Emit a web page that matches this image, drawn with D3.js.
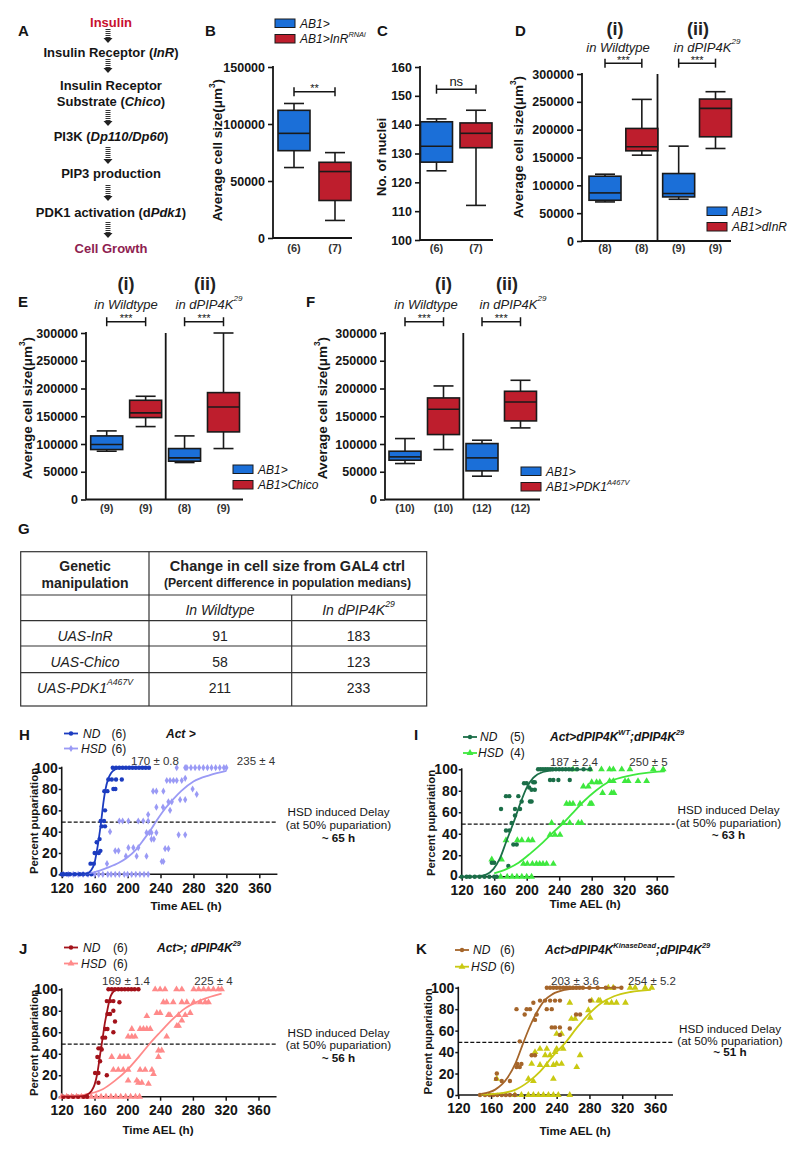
<!DOCTYPE html>
<html><head><meta charset="utf-8">
<script src="https://cdn.jsdelivr.net/npm/d3@7"></script>
<style>body{margin:0;background:#fff}svg{display:block}text{font-family:"Liberation Sans",Arial,Helvetica,sans-serif}</style>
</head><body>
<svg id="fig" width="800" height="1150"></svg>
<script>
// ================= DATA =================
// Panel A pathway
const pathwaySteps = [
  [{t:"Insulin"}],
  [{t:"Insulin Receptor ("},{t:"InR",i:1},{t:")"}],
  [{t:"Insulin Receptor"}],
  [{t:"Substrate ("},{t:"Chico",i:1},{t:")"}],
  [{t:"PI3K ("},{t:"Dp110/Dp60",i:1},{t:")"}],
  [{t:"PIP3 production"}],
  [{t:"PDK1 activation (d"},{t:"Pdk1",i:1},{t:")"}],
  [{t:"Cell Growth"}]
];
// Box plots: [min, Q1, median, Q3, max]
const nB = ["(6)","(7)"];
const boxB = [[61800,76600,91800,112000,118000],[15400,32900,58300,66400,74900]];
const nC = ["(6)","(7)"];
const boxC = [[124,127,132.5,141,142],[112,132,137,140.6,145]];
const nD = ["(8)","(8)","(9)","(9)"];
const boxD = [[70200,73200,86400,116400,120000],[154200,162000,169200,202200,254400],
              [75000,79200,85200,121200,170400],[166200,187200,238200,255000,268200]];
const nE = ["(9)","(9)","(8)","(9)"];
const boxE = [[87000,90000,99000,114600,123600],[131400,147600,156000,178800,186000],
              [66600,69000,75000,91800,114600],[91800,121800,166800,192600,300000]];
const nF = ["(10)","(10)","(12)","(12)"];
const boxF = [[64800,70800,76800,87000,109800],[90000,117000,162600,183000,204600],
              [42000,51600,75000,100800,106800],[129000,141600,175800,195000,214800]];
const cellTicks = [0,50000,100000,150000,200000,250000,300000];
const cellTicksB = [0,50000,100000,150000];
const nucleiTicks = [100,110,120,130,140,150,160];
// Table G
const tableRows = ["UAS-InR","UAS-Chico","UAS-PDK1"];
const tableWT = [91,58,211];
const tableDP = [183,123,233];
// Pupariation: [time AEL (h), percent]
const timeTicks = [120,160,200,240,280,320,360];
const pctTicks = [0,20,40,60,80,100];
const hND = [[120,0],[122,0],[126,0],[130,0],[136,0],[142,0],[146,0],[151,0],[156,0],[155,10],[159,10],[160,20],[165,20],[167,22],[162.5,30],[166,33],[168.6,45],[172.6,45],[167.4,50],[171.4,50],[172.6,60],[171.8,78],[175.5,78],[182.8,80],[185.2,80],[176.7,89],[180.8,89],[186,89],[193,89],
  [182,100],[186,100],[190,100],[194,100],[198,100],[202,100],[206,100],[210,100],[214,100],[218,100],[222,100],[226,100]];
const hHSD = [[122,0],[128,0],[134,0],[140,0],[146,0],[152,0],[160,0],[165,0],[170,0],[176,0],[180,0],[185,0],[190,0],[196,0],[200,0],[205,0],[210,0],[215,0],[220,0],[225,0],
  [175,10],[198,17],[211,17],[223,17],[185,22],[189,22],[201,25],[207,25],[213,25],[241.5,12],[243.5,12],[245.6,24],[249.6,24],[229,33],[232,33],[229,39],[235,39],[262,37],[270,37],[178.7,40],[223,39],[226.5,39],
  [190,50],[194,50],[201,50],[213,50],[219,50],[225,50],[225,56],[235,63],[243,63],[249.6,68],[253.7,68],[231,78],[235,78],[243.5,78],[263.8,70],[270,70],[251.6,60],[284,75],[279,80],
  [247.6,88],[251.6,88],[255.7,88],[259.7,88],[265.8,88],[270,90],
  [259.7,100],[270,100],[272,100],[277,100],[282,100],[287,100],[292,100],[297,100],[302,100],[307,100],[312,100],[317,100],[320,100]];
const hNDfit = [[120,0],[150,0.5],[156,4],[160,11],[162.5,21],[165,33],[168,50],[170.6,67],[173,79],[176.7,90],[180,95],[185,98.5],[190,99.7],[227,100]];
const hHSDfit = [[145,0],[160,2],[175,6],[190,11],[200,16],[210,23],[220,33],[230,44],[235,50],[245,61],[255,70],[265,78],[280,87],[300,93],[320,97]];

const iND = [[120,0],[126,0],[130,0],[136,0],[142,0],[148,0],[154,0],[160,0],[163,0],[157,13],[160,13],[177.4,10],[174.5,43],[178.6,43],[168.4,63],[174.5,75],[178.6,75],[183.6,30],[187.7,30],[185.6,63],[191.8,63],[185.6,57],[189.7,75],[196.7,87],[200,87],[208,88],[210,88],[203,83],[193.8,70],[204,70],[206,70],[206,81],[210,81],[181.5,50],
  [228.7,90],[232.8,90],[239,90],[253,90],
  [214,100],[217,100],[220,100],[223,100],[226,100],[229,100],[232,100],[236,100],[240,100],[244,100],[248,100],[252,100],[256,100],[262,100],[270,100],[278,100]];
const iHSD = [[168,0],[176,0],[182,0],[188,0],[194,0],[200,0],[206,0],[157,16],[169,16],
  [196,12],[200.8,12],[207,12],[212,12],[216,12],[220,12],[224.5,12],[232.8,12],
  [174.5,34],[188.5,34],[194,34],[202,34],[207,34],[228.7,39],[234.8,39],[241,39],
  [230.7,50],[245,50],[253,50],[263.5,50],[267.6,50],
  [249,68],[253,68],[257,68],[265.6,68],[278,68],[280,68],[269.7,84],[275.8,84],[280,88],[286,88],[290,88],[293.4,78],[304.5,78],[307.4,78],
  [302,89],[306.6,89],[321,89],[325,89],[337,89],[347.6,89],
  [257,100],[278,100],[292,100],[302,100],[306.6,100],[317,100],[327,100],[355.8,100],[368,100]];
const iNDfit = [[120,0],[140,0.5],[150,2],[159,7],[167,17],[175,33],[183.6,50],[192,68],[200,83],[208,92],[220,97.5],[237,99.5],[278,100]];
const iHSDfit = [[160,3],[175,7],[190,13],[205,22],[220,32],[235,43],[245,50],[255,58],[270,70],[285,80],[300,88],[320,93],[345,96.5],[370,98]];

const jND = [[122,0],[128,0],[134,0],[140,0],[146.5,0],[151,0],[160.7,22],[164.8,22],[164.8,13],[163.5,37],[164.8,45],[167.6,45],[166.8,33],[169.7,55],[173,55],[173,63],[175.8,63],[168.8,44],[175,20],[175.8,77],[179,77],
  [175,89],[179,89],[183,89],[190.4,88],[183,80],[185,70],[183,60],
  [177,100],[181,100],[185,100],[189,100],[193,100],[197,100],[201,100],[205,100],[209,100],[213.6,100]];
const jHSD = [[120,0],[126,0],[132,0],[138,0],[144,0],[150,0],[156,0],[162,0],[168,0],[174,0],[180,0],[186,0],[192,0],[198,0],[204,0],[210,0],[215,0],
  [213.6,13],[217.7,13],[225.8,12],[201,15],[211.6,15],
  [183,25],[189,25],[195,25],[201,25],[215.6,25],[221.8,25],[230,25],[181,37],[191,37],[196,37],[201,37],[232,21],
  [201,56],[205.5,56],[209.5,56],[205.5,63],[215.6,63],[219.7,63],[223.8,63],[228,63],[223.8,75],[248,56],[238,43],[242,43],[238,37],
  [236,78],[240,78],[244,88],[248,88],[256,88],[266.5,88],[250,76],[252,76],[262.5,76],[270.6,76],[260.4,66],[262.5,66],[266.5,71],
  [234,100],[240,100],[246,100],[260,100],[266.5,100],[281,100],[287,100],[293,100],[299,100],[305,100],[311,100],[315,100],
  [272.6,88],[281,88],[289,88],[295,88],[299,88],[276.7,78]];
const jNDfit = [[120,0],[145,0.5],[150,1.5],[156,5],[160,11],[163,20],[167,40],[170,55],[172.5,68],[175,78],[179,92],[185,99],[190,100],[213,100]];
const jHSDfit = [[120,0.5],[140,1],[155,3],[170,7],[185,15],[200,25],[215,38],[228,50],[240,60],[255,72],[270,82],[290,90],[315,96]];

const kND = [[146.5,0],[152.6,0],[158,0],[162.7,0],[167.6,0],[173,0],[178,0],[183,0],[189,0],[167,20],[166,15],[173,13],[183,13],[191,26],[195,26],[192,29],[197,29],[195,50],[191,80],[201,75],[203.4,80],[207.5,80],[209.5,37],[213.6,37],[213.6,70],[211.6,86],
  [219.7,88],[225.8,88],[232,88],[238,88],[244,88],[215.6,75],[234,63],[238,63],[244,63],[227.9,80],[234,80],[244,56],[256,62],[263.7,75],[268.6,75],[280.8,88],
  [228,100],[232,100],[236,100],[240,100],[244,100],[248,100],[252,100],[256,100],[260,100],[264,100],[268,100],[272,100],[280,100],[290,100],[300,100],[310,100],[319,100]];
const kHSD = [[189,0],[197,0],[205.5,0],[211.6,0],[217.7,0],[223.8,0],[230,0],[236,0],[242,0],[256,0],
  [167,15],[205.5,15],[211.6,13],[209.5,29],[240,29],[213.6,40],[219.7,43],[228,43],[238,40],[226,37],[232,37],[219.7,28],[228,28],[236,28],
  [240,57],[246,57],[240,43],[248,43],[236,15],[246,29],[256,86],[258,71],[262.5,71],[264.5,26],[268.6,37],[278.7,79],[280.8,72],
  [282.8,88],[291,88],[293,88],[301,86],[307,86],[313,86],[324,86],
  [303,100],[309,100],[329.6,100],[335.7,100],[348,100],[356,100]];
const kNDfit = [[148,1],[165,5],[180,16],[190,30],[200,50],[208,65],[215,76],[225,88],[235,94],[250,98],[270,99.7],[320,100]];
const kHSDfit = [[148,0.3],[175,2],[190,5],[205,12],[220,22],[235,36],[252,50],[265,63],[280,76],[295,86],[310,92],[330,96],[355,98]];

// ================= DRAWING =================
const svg = d3.select("#fig");
const BLUE = "#1b6fd8", RED = "#be1e2d", INK = "#151515";
const FF = '"Liberation Sans",Arial,sans-serif';

function txt(x, y, segs, o = {}) {
  const size = o.size || 12;
  const t = svg.append("text").attr("x", x).attr("y", y)
    .attr("font-size", size).attr("font-weight", o.weight || "normal")
    .attr("text-anchor", o.anchor || "middle").attr("dominant-baseline", "central")
    .attr("fill", o.fill || INK);
  if (o.italic) t.attr("font-style", "italic");
  if (o.rotate) t.attr("transform", `rotate(${o.rotate},${x},${y})`);
  if (typeof segs === "string") segs = [{t: segs}];
  let shifted = 0;
  segs.forEach(s => {
    const ts = t.append("tspan").text(s.t);
    if (s.i) ts.attr("font-style", "italic");
    if (s.b) ts.attr("font-weight", "bold");
    const want = s.sup ? -size * 0.4 : 0;
    if (want !== shifted) { ts.attr("dy", want - shifted); shifted = want; }
    if (s.sup) ts.attr("font-size", size * 0.62);
  });
  return t;
}

// ---------- Panel A ----------
txt(18, 30, "A", {size: 15, weight: "bold", anchor: "start"});
const aY = [22, 52, 85, 101, 136, 173, 212, 248];
pathwaySteps.forEach((s, i) => {
  let fill = INK;
  if (i === 0) fill = "#c8102e";
  if (i === pathwaySteps.length - 1) fill = "#8e2150";
  txt(111, aY[i], s, {size: 13, weight: "bold", fill});
});
const arrows = [[29,43],[59,73],[110,126],[147,164],[185,201],[222,238]];
arrows.forEach(a => {
  svg.append("line").attr("x1", 108).attr("x2", 108).attr("y1", a[0]).attr("y2", a[1] - 4)
    .attr("stroke", "#333").attr("stroke-width", 5).attr("stroke-dasharray", "1,1");
  svg.append("path").attr("d", `M103.5,${a[1]-5} L112.5,${a[1]-5} L108,${a[1]} Z`).attr("fill", "#222");
});

// ---------- Box panels ----------
function boxPanel(o) {
  const y = d3.scaleLinear().domain(o.domain).range([o.y0, o.yTop]);
  const keys = o.data.map((d, i) => "k" + i);
  const x = d3.scalePoint().domain(keys).range(o.xr);
  const ag = svg.append("g").attr("transform", `translate(${o.ax},0)`)
    .call(d3.axisLeft(y).tickValues(o.ticks).tickSize(5).tickPadding(3).tickFormat(d3.format("d")));
  ag.select(".domain").remove();
  ag.selectAll("line").attr("stroke", INK).attr("stroke-width", 1.6);
  ag.selectAll("text").attr("font-size", 12.5).attr("font-weight", "bold").attr("fill", INK).attr("font-family", FF);
  svg.append("line").attr("x1", o.ax).attr("x2", o.ax).attr("y1", o.yTop - 1).attr("y2", o.y0)
    .attr("stroke", INK).attr("stroke-width", 1.8);
  svg.append("line").attr("x1", o.ax).attr("x2", o.xEnd).attr("y1", o.y0).attr("y2", o.y0)
    .attr("stroke", INK).attr("stroke-width", 1.8);
  if (o.divider) svg.append("line").attr("x1", o.divider).attr("x2", o.divider)
    .attr("y1", o.yTop).attr("y2", o.y0).attr("stroke", INK).attr("stroke-width", 1.8);
  const bw = 32, cw = 20;
  const g = svg.append("g").attr("stroke", "#1a1a1a").attr("stroke-width", 1.6);
  o.data.forEach((d, i) => {
    const cx = x(keys[i]);
    const col = o.colors[i];
    g.append("line").attr("x1", cx).attr("x2", cx).attr("y1", y(d[0])).attr("y2", y(d[1]));
    g.append("line").attr("x1", cx).attr("x2", cx).attr("y1", y(d[3])).attr("y2", y(d[4]));
    g.append("line").attr("x1", cx - cw/2).attr("x2", cx + cw/2).attr("y1", y(d[0])).attr("y2", y(d[0]));
    g.append("line").attr("x1", cx - cw/2).attr("x2", cx + cw/2).attr("y1", y(d[4])).attr("y2", y(d[4]));
    g.append("rect").attr("x", cx - bw/2).attr("width", bw).attr("y", y(d[3]))
      .attr("height", y(d[1]) - y(d[3])).attr("fill", col);
    g.append("line").attr("x1", cx - bw/2).attr("x2", cx + bw/2).attr("y1", y(d[2])).attr("y2", y(d[2]));
    txt(cx, o.nY, o.n[i], {size: 11, weight: "bold", fill: "#333"});
  });
  o.brackets.forEach(b => {
    const x1 = x(keys[b[0]]), x2 = x(keys[b[1]]), by = y(b[2]);
    const bg = svg.append("g").attr("stroke", INK).attr("stroke-width", 1.5);
    bg.append("line").attr("x1", x1).attr("x2", x2).attr("y1", by).attr("y2", by);
    bg.append("line").attr("x1", x1).attr("x2", x1).attr("y1", by - 4.5).attr("y2", by + 4.5);
    bg.append("line").attr("x1", x2).attr("x2", x2).attr("y1", by - 4.5).attr("y2", by + 4.5);
    const ns = b[3] === "ns";
    svg.append("text").attr("x", (x1 + x2) / 2).attr("y", by - (ns ? 3 : -0.5)).attr("text-anchor", "middle")
      .attr("font-size", ns ? 13 : 11).attr("fill", INK).text(b[3]);
  });
  txt(o.ytX, o.ytY, o.ytitle, {size: o.ytSize || 13.5, weight: "bold", rotate: -90});
}
const cellTitle = [{t:"Average cell size(μm"},{t:"3",sup:1},{t:")"}];

function legend(x, y, labels) {
  labels.forEach((l, i) => {
    svg.append("rect").attr("x", x).attr("y", y + i * 15.5).attr("width", 20).attr("height", 8.5)
      .attr("fill", i === 0 ? BLUE : RED).attr("stroke", "#1a1a1a").attr("stroke-width", 1);
    txt(x + 25, y + 4.5 + i * 15.5, l, {size: 12, italic: true, anchor: "start"});
  });
}

// B
txt(205, 30, "B", {size: 15, weight: "bold", anchor: "start"});
boxPanel({domain: [0,150000], ticks: cellTicksB, y0: 238, yTop: 67, ax: 273, xEnd: 352, xr: [294,335],
  data: boxB, colors: [BLUE, RED], n: nB, nY: 248, brackets: [[0,1,128300,"**"]],
  ytX: 217, ytY: 150, ytitle: cellTitle});
legend(275, 19, [[{t:"AB1>"}], [{t:"AB1>InR"},{t:"RNAi",sup:1}]]);
// C
txt(377, 30, "C", {size: 15, weight: "bold", anchor: "start"});
boxPanel({domain: [100,160], ticks: nucleiTicks, y0: 240, yTop: 67, ax: 420, xEnd: 493, xr: [436.5,476],
  data: boxC, colors: [BLUE, RED], n: nC, nY: 248, brackets: [[0,1,152.3,"ns"]],
  ytX: 381, ytY: 157, ytitle: "No. of nuclei", ytSize: 13});
// D
txt(515, 30, "D", {size: 15, weight: "bold", anchor: "start"});
boxPanel({domain: [0,300000], ticks: cellTicks, y0: 241, yTop: 74, ax: 582, xEnd: 731, xr: [605,715.5],
  divider: 657.5, data: boxD, colors: [BLUE, RED, BLUE, RED], n: nD, nY: 248,
  brackets: [[0,1,319500,"***"],[2,3,319500,"***"]], ytX: 518, ytY: 147, ytitle: cellTitle});
txt(615, 29, "(i)", {size: 18, weight: "bold", fill: "#222"});
txt(698, 29, "(ii)", {size: 18, weight: "bold", fill: "#222"});
txt(618, 46.5, "in Wildtype", {size: 13, italic: true, fill: "#222"});
txt(707, 46.5, [{t:"in dPIP4K"},{t:"29",sup:1}], {size: 13, italic: true, fill: "#222"});
legend(707, 207, [[{t:"AB1>"}], [{t:"AB1>dInR"}]]);
// E
txt(18, 301, "E", {size: 15, weight: "bold", anchor: "start"});
boxPanel({domain: [0,300000], ticks: cellTicks, y0: 499.5, yTop: 333, ax: 86, xEnd: 243, xr: [106.7,223.5],
  divider: 165.7, data: boxE, colors: [BLUE, RED, BLUE, RED], n: nE, nY: 508,
  brackets: [[0,1,320300,"***"],[2,3,320300,"***"]], ytX: 27, ytY: 408, ytitle: cellTitle});
txt(126, 284, "(i)", {size: 18, weight: "bold", fill: "#222"});
txt(205, 284, "(ii)", {size: 18, weight: "bold", fill: "#222"});
txt(126, 303.5, "in Wildtype", {size: 13, italic: true, fill: "#222"});
txt(209, 303.5, [{t:"in dPIP4K"},{t:"29",sup:1}], {size: 13, italic: true, fill: "#222"});
legend(233, 465, [[{t:"AB1>"}], [{t:"AB1>Chico"}]]);
// F
txt(306, 301, "F", {size: 15, weight: "bold", anchor: "start"});
boxPanel({domain: [0,300000], ticks: cellTicks, y0: 499.5, yTop: 333, ax: 385, xEnd: 540, xr: [405,520.5],
  divider: 463.3, data: boxF, colors: [BLUE, RED, BLUE, RED], n: nF, nY: 508,
  brackets: [[0,1,320300,"***"],[2,3,320300,"***"]], ytX: 322, ytY: 408, ytitle: cellTitle});
txt(443.5, 284, "(i)", {size: 18, weight: "bold", fill: "#222"});
txt(507, 284, "(ii)", {size: 18, weight: "bold", fill: "#222"});
txt(426, 303.5, "in Wildtype", {size: 13, italic: true, fill: "#222"});
txt(513, 303.5, [{t:"in dPIP4K"},{t:"29",sup:1}], {size: 13, italic: true, fill: "#222"});
legend(521, 467, [[{t:"AB1>"}], [{t:"AB1>PDK1"},{t:"A467V",sup:1}]]);

// ---------- Table G ----------
txt(18, 528, "G", {size: 15, weight: "bold", anchor: "start"});
const tb = svg.append("g").attr("stroke", "#333").attr("stroke-width", 1.2).attr("fill", "none");
tb.append("rect").attr("x", 20.7).attr("y", 551.7).attr("width", 406).attr("height", 154.3);
[595, 620.7, 646, 672.7].forEach(yy => tb.append("line").attr("x1", 20.7).attr("x2", 426.7).attr("y1", yy).attr("y2", yy));
tb.append("line").attr("x1", 149).attr("x2", 149).attr("y1", 551.7).attr("y2", 706);
tb.append("line").attr("x1", 291.7).attr("x2", 291.7).attr("y1", 595).attr("y2", 706);
txt(85, 566, "Genetic", {size: 14, weight: "bold", fill: "#222"});
txt(85, 583, "manipulation", {size: 14, weight: "bold", fill: "#222"});
txt(287.5, 566, "Change in cell size from GAL4 ctrl", {size: 14.5, weight: "bold", fill: "#222"});
txt(287.5, 583, "(Percent difference in population medians)", {size: 12.2, weight: "bold", fill: "#222"});
txt(220, 610, "In Wildtype", {size: 14, italic: true, fill: "#222"});
txt(358.5, 610, [{t:"In dPIP4K"},{t:"29",sup:1}], {size: 14, italic: true, fill: "#222"});
const rowY = [636, 661.5, 688];
tableRows.forEach((r, i) => {
  const segs = i === 2 ? [{t:r},{t:"A467V",sup:1}] : [{t:r}];
  txt(85, rowY[i], segs, {size: 14, italic: true, fill: "#222"});
  txt(220, rowY[i], String(tableWT[i]), {size: 14, fill: "#222"});
  txt(358.5, rowY[i], String(tableDP[i]), {size: 14, fill: "#222"});
});

// ---------- Pupariation panels ----------
function pupPanel(o) {
  const x = d3.scaleLinear().domain([120,360]).range([o.x120, o.x360]);
  const y = d3.scaleLinear().domain([0,100]).range([o.y0, o.y100]);
  const xa = svg.append("g").attr("transform", `translate(0,${o.y0})`)
    .call(d3.axisBottom(x).tickValues(timeTicks).tickSize(4).tickPadding(4.5));
  const ya = svg.append("g").attr("transform", `translate(${o.x120},0)`)
    .call(d3.axisLeft(y).tickValues(pctTicks).tickSize(3).tickPadding(1));
  [xa, ya].forEach(a => {
    a.select(".domain").remove();
    a.selectAll("line").attr("stroke", INK).attr("stroke-width", 1.5);
    a.selectAll("text").attr("font-size", 14).attr("font-weight", "bold").attr("fill", INK).attr("font-family", FF);
  });
  ya.selectAll(".tick text").filter(d => d === 0).attr("dy", "0.18em");
  svg.append("line").attr("x1", o.x120).attr("x2", x(382)).attr("y1", o.y0).attr("y2", o.y0)
    .attr("stroke", INK).attr("stroke-width", 1.6);
  svg.append("line").attr("x1", o.x120).attr("x2", o.x120).attr("y1", o.y0).attr("y2", o.y100 - 1)
    .attr("stroke", INK).attr("stroke-width", 1.6);
  svg.append("line").attr("x1", o.x120).attr("x2", x(382)).attr("y1", y(49)).attr("y2", y(49))
    .attr("stroke", "#111").attr("stroke-width", 1.3).attr("stroke-dasharray", "4,2");
  const hsdSym = d3.symbol().type(o.hsdShape === "diamond" ? d3.symbolDiamond : d3.symbolTriangle)
    .size(o.hsdShape === "diamond" ? 15 : 20);
  svg.append("g").selectAll("path").data(o.hsd).join("path")
    .attr("transform", d => `translate(${x(d[0])},${y(d[1])})`).attr("d", hsdSym).attr("fill", o.hsdCol);
  svg.append("g").selectAll("circle").data(o.nd).join("circle")
    .attr("cx", d => x(d[0])).attr("cy", d => y(d[1])).attr("r", 2.2).attr("fill", o.ndCol);
  const ln = d3.line().x(d => x(d[0])).y(d => y(d[1])).curve(d3.curveMonotoneX);
  svg.append("path").attr("d", ln(o.hsdFit)).attr("fill", "none").attr("stroke", o.hsdCol).attr("stroke-width", 1.8);
  svg.append("path").attr("d", ln(o.ndFit)).attr("fill", "none").attr("stroke", o.ndCol).attr("stroke-width", 1.8);
  // legend
  const L = o.leg;
  [[o.ndCol, "ND", o.nN, 0], [o.hsdCol, "HSD", o.nH, 1]].forEach(([c, lab, n, k]) => {
    const yy = L.y + k * L.dy;
    svg.append("line").attr("x1", L.x).attr("x2", L.x + 14).attr("y1", yy).attr("y2", yy).attr("stroke", c).attr("stroke-width", 1.8);
    if (k === 0) svg.append("circle").attr("cx", L.x + 7).attr("cy", yy).attr("r", 2.2).attr("fill", c);
    else svg.append("path").attr("transform", `translate(${L.x + 7},${yy})`).attr("d", hsdSym).attr("fill", c);
    txt(L.tx - (k ? 2 : 0), yy, lab, {size: 12, italic: true, anchor: "start"});
    txt(L.nx, yy, n, {size: 12, anchor: "start"});
  });
  txt(o.title.x, L.y, o.title.segs, {size: 12, weight: "bold", italic: true, anchor: "start"});
  txt(o.a1.x, o.aY, o.a1.t, {size: 11.5, fill: "#333"});
  txt(o.a2.x, o.aY, o.a2.t, {size: 11.5, fill: "#333"});
  txt(o.dX, o.dY, "HSD induced Delay", {size: 11.7});
  txt(o.dX, o.dY + o.dS, "(at 50% pupariation)", {size: 11.7});
  txt(o.dX, o.dY + 2 * o.dS, o.delay, {size: 11.7, weight: "bold"});
  txt(o.lab.x, o.lab.y, o.lab.t, {size: 15, weight: "bold", anchor: "start"});
  txt(o.ytX, (o.y0 + o.y100) / 2, "Percent pupariation", {size: 11.3, weight: "bold", rotate: -90});
  txt(o.xt.x, o.xt.y, "Time AEL (h)", {size: 11.7, weight: "bold"});
}

pupPanel({x120: 61.7, x360: 259.3, y0: 874.3, y100: 767.7, nd: hND, hsd: hHSD, ndFit: hNDfit, hsdFit: hHSDfit,
  ndCol: "#1c3cc0", hsdCol: "#9a9af5", hsdShape: "diamond",
  leg: {x: 64, y: 733.5, dy: 15, tx: 83, nx: 111.5}, nN: "(6)", nH: "(6)",
  title: {x: 166, segs: [{t:"Act >"}]}, aY: 761, a1: {x: 155, t: "170 ± 0.8"}, a2: {x: 256, t: "235 ± 4"},
  dX: 338.5, dY: 811, dS: 12.8, delay: "~ 65 h", lab: {x: 19, y: 734, t: "H"}, ytX: 34, xt: {x: 186, y: 905}});
pupPanel({x120: 461.7, x360: 656.7, y0: 876.7, y100: 769.3, nd: iND, hsd: iHSD, ndFit: iNDfit, hsdFit: iHSDfit,
  ndCol: "#1b6e48", hsdCol: "#3ee83e", hsdShape: "triangle",
  leg: {x: 463, y: 737, dy: 16, tx: 480, nx: 510},
  nN: "(5)", nH: "(4)",
  title: {x: 550, segs: [{t:"Act>dPIP4K"},{t:"WT",sup:1},{t:";dPIP4K"},{t:"29",sup:1}]},
  aY: 762, a1: {x: 574, t: "187 ± 2.4"}, a2: {x: 648.5, t: "250 ± 5"},
  dX: 728.5, dY: 809, dS: 12.5, delay: "~ 63 h", lab: {x: 414, y: 734, t: "I"}, ytX: 431, xt: {x: 585, y: 903}});
pupPanel({x120: 61.7, x360: 258.5, y0: 1096.7, y100: 989.3, nd: jND, hsd: jHSD, ndFit: jNDfit, hsdFit: jHSDfit,
  ndCol: "#a3121a", hsdCol: "#ff8a8a", hsdShape: "triangle",
  leg: {x: 64, y: 947.5, dy: 16, tx: 83, nx: 113}, nN: "(6)", nH: "(6)",
  title: {x: 157, segs: [{t:"Act>; dPIP4K"},{t:"29",sup:1}]},
  aY: 981, a1: {x: 126, t: "169 ± 1.4"}, a2: {x: 213.5, t: "225 ± 4"},
  dX: 338.5, dY: 1031.7, dS: 12.5, delay: "~ 56 h", lab: {x: 19, y: 948, t: "J"}, ytX: 34, xt: {x: 158, y: 1128.5}});
pupPanel({x120: 458.3, x360: 655, y0: 1095, y100: 987.7, nd: kND, hsd: kHSD, ndFit: kNDfit, hsdFit: kHSDfit,
  ndCol: "#a5652a", hsdCol: "#c9c912", hsdShape: "triangle",
  leg: {x: 455, y: 950, dy: 16.7, tx: 473, nx: 500}, nN: "(6)", nH: "(6)",
  title: {x: 545, segs: [{t:"Act>dPIP4K"},{t:"KinaseDead",sup:1},{t:";dPIP4K"},{t:"29",sup:1}]},
  aY: 981, a1: {x: 575, t: "203 ± 3.6"}, a2: {x: 652, t: "254 ± 5.2"},
  dX: 730, dY: 1028, dS: 11.5, delay: "~ 51 h", lab: {x: 416, y: 948, t: "K"}, ytX: 428, xt: {x: 575, y: 1129.5}});
</script>
</body></html>
